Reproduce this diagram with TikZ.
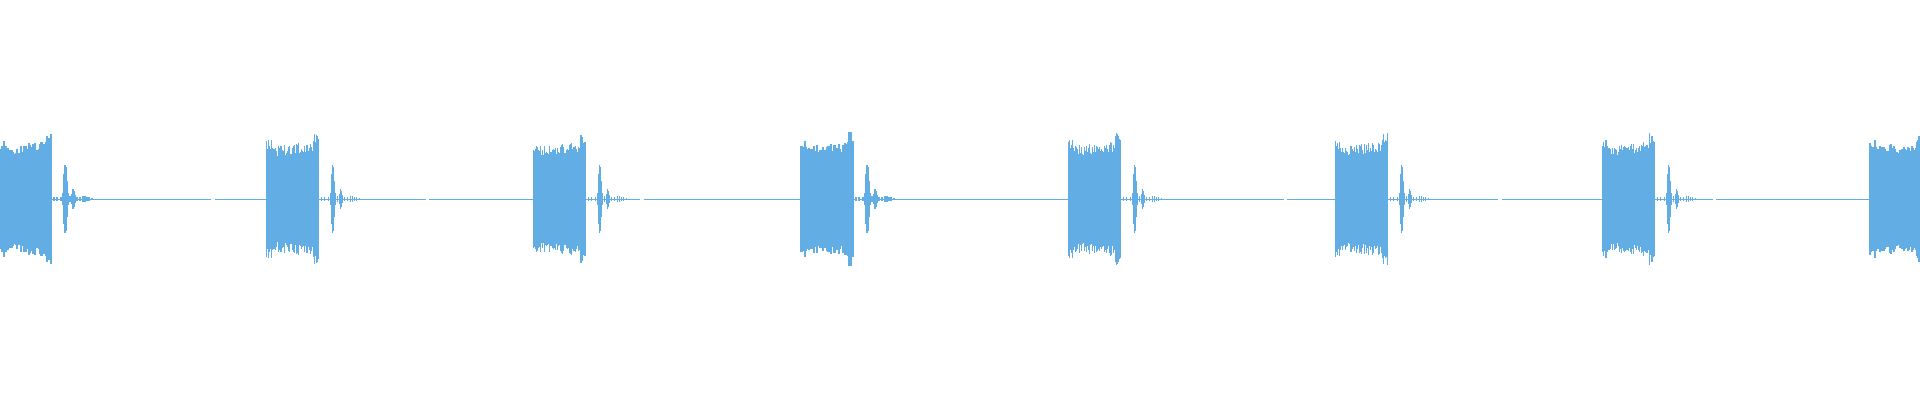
\documentclass[tikz,border=0pt]{standalone}
\definecolor{wave}{HTML}{62ADE3}
\tikzset{
  sample/.style={draw=wave, line width=0.013cm},
  baseline/.style={draw=wave, line width=0.007cm, dash pattern=on 60pt off 1pt},
}
\begin{document}
\begin{tikzpicture}[x=0.01cm, y=-0.01cm]
    \pgfmathsetseed{7}
    \useasboundingbox (0,0) rectangle (1920,400);
    \clip (0,0) rectangle (1920,400);
    % quiet line between the bursts
    \draw [baseline] (0,199) -- (1920,199);
    \foreach \k in {0,...,7} {
        \pgfmathsetmacro{\start}{-1 + 267.3*\k}
        \begin{scope}[xshift=\start*0.01cm]
            % the burst
            \foreach \i in {0,...,52} {
                \pgfmathsetmacro{\h}{42 + (\i<6)*6 + 0.1*\i + 11*rnd + (\i>46)*9}
                \draw [sample] (\i,199-\h) -- (\i,199+\h);
            }
            % the echo after it
            \foreach \i/\h in {55/2,58/2,62/2,64/6,65/25,66/34,67/32,68/18,69/6,71/3,73/5,74/10,75/8,76/4,78/2,81/2,84/3,86/3,88/2,90/2,93/1}
                \draw [sample] (\i,199-\h) -- (\i,199+\h);
        \end{scope}
    }
\end{tikzpicture}
\end{document}
